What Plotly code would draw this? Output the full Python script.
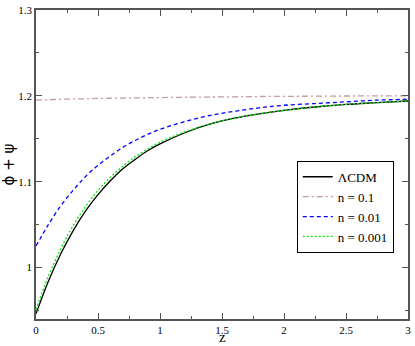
import plotly.graph_objects as go

# ── Data ──────────────────────────────────────────────────────────────────────
z = [0, 0.1, 0.2, 0.3, 0.4, 0.5, 0.6, 0.7, 0.8, 0.9, 1.0,
     1.2, 1.4, 1.6, 1.8, 2.0, 2.25, 2.5, 2.75, 3.0]

lcdm = [0.946, 0.984, 1.016, 1.043, 1.066, 1.085, 1.101, 1.115, 1.126, 1.136, 1.144,
        1.157, 1.167, 1.174, 1.179, 1.183, 1.187, 1.190, 1.192, 1.194]

n_01 = [1.195, 1.1955, 1.196, 1.1963, 1.1966, 1.197, 1.1972, 1.1974, 1.1976, 1.1978, 1.198,
        1.1983, 1.1986, 1.1989, 1.1992, 1.1994, 1.1996, 1.1998, 1.1999, 1.2]

n_001 = [1.025, 1.050, 1.072, 1.090, 1.106, 1.119, 1.130, 1.140, 1.148, 1.155, 1.161,
         1.170, 1.177, 1.182, 1.186, 1.189, 1.191, 1.193, 1.195, 1.196]

n_0001 = [0.951, 0.990, 1.022, 1.049, 1.071, 1.090, 1.105, 1.118, 1.129, 1.138, 1.146,
          1.158, 1.167, 1.174, 1.179, 1.183, 1.187, 1.190, 1.192, 1.194]

x_ticks = [0, 0.5, 1, 1.5, 2, 2.5, 3]
x_labels = ["0", "0.5", "1", "1.5", "2", "2.5", "3"]
y_ticks = [1.0, 1.1, 1.2, 1.3]
y_labels = ["1", "1.1", "1.2", "1.3"]

SERIF = "Liberation Serif, DejaVu Serif, serif"
FRAME = "#555555"

series = [
    ("ΛCDM",      lcdm,   dict(color="black",   width=1.3, dash="solid")),
    ("n = 0.1",   n_01,   dict(color="#c49c9c", width=1.3, dash="6px,3px,2px,3px")),
    ("n = 0.01",  n_001,  dict(color="#0000ff", width=1.3, dash="4px,3px")),
    ("n = 0.001", n_0001, dict(color="#00ee00", width=1.3, dash="2px,2px")),
]

fig = go.Figure()
for name, ys, line in series:
    fig.add_trace(go.Scatter(
        x=z, y=ys, mode="lines", name=name,
        line=dict(shape="spline", **line),
    ))

axis_common = dict(
    showline=True, linecolor=FRAME, linewidth=1.5, mirror="ticks",
    ticks="inside", ticklen=6, tickcolor=FRAME, tickwidth=1,
    showgrid=False, zeroline=False,
    ticklabeloverflow="allow",
    tickfont=dict(family=SERIF, size=11, color="black"),
)

fig.update_xaxes(
    range=[0, 3], tickvals=x_ticks, ticktext=x_labels,
    minor=dict(ticks="inside", ticklen=3, tickcolor=FRAME, dtick=0.25, showgrid=False),
    **axis_common,
)
fig.update_yaxes(
    range=[0.94, 1.3], tickvals=y_ticks, ticktext=y_labels,
    minor=dict(ticks="inside", ticklen=3, tickcolor=FRAME, tickvals=[0.95, 1.05, 1.15, 1.25], showgrid=False),
    title=dict(text="ϕ + ψ", font=dict(family="DejaVu Sans", size=15, color="black"), standoff=4),
    **axis_common,
)

# x title sits tight under the tick labels
fig.add_annotation(
    text="z", xref="paper", yref="paper", x=0.5, y=-0.0863,
    xanchor="center", yanchor="bottom", showarrow=False, borderpad=0,
    font=dict(family=SERIF, size=15, color="black"),
)

fig.update_layout(
    width=415, height=346,
    plot_bgcolor="white", paper_bgcolor="white",
    margin=dict(l=36, r=4, t=6, b=27),
    legend=dict(
        x=0.701, y=0.512, xanchor="left", yanchor="top",
        bgcolor="white", bordercolor="black", borderwidth=1,
        font=dict(family=SERIF, size=13, color="black"),
        itemwidth=30, tracegroupgap=0,
    ),
)

fig.write_html("out.html", config={"displayModeBar": False},
               post_script="document.body.style.margin='0';")
